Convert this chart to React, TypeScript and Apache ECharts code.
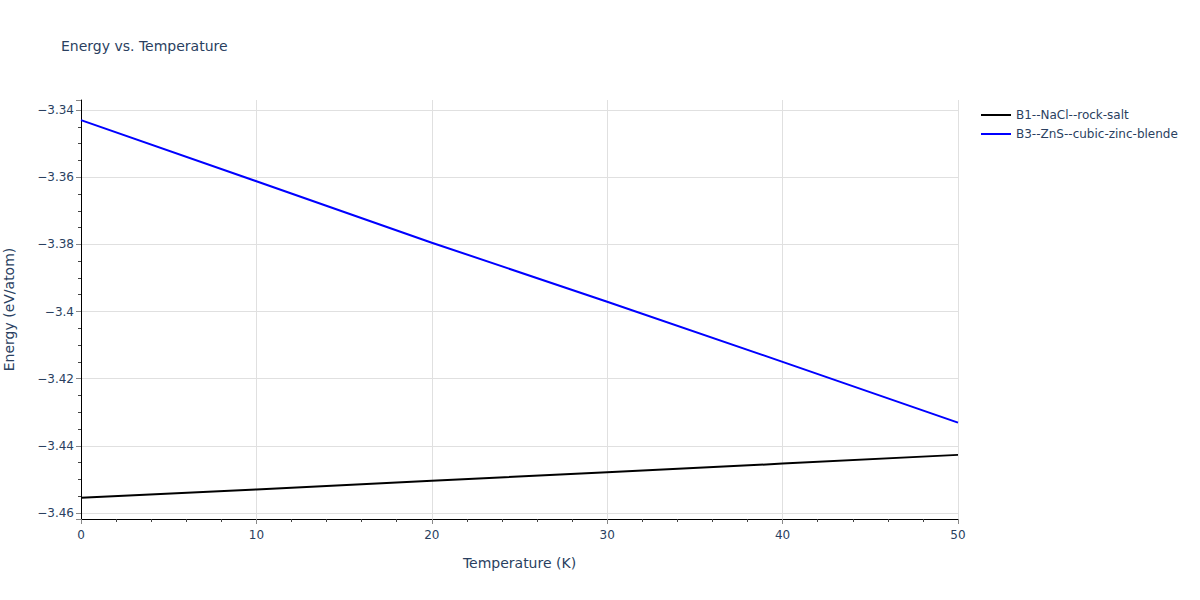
import { useEffect, useRef } from 'react';
import * as echarts from 'echarts';

// Temperature samples (K)
const temperatures = [0, 10, 20, 30, 40, 50];

// Energy per structure (eV/atom)
const rockSalt = [-3.4555, -3.4530, -3.4504, -3.4479, -3.4453, -3.4427];
const zincBlende = [-3.3430, -3.3612, -3.3795, -3.3971, -3.4150, -3.4331];

const seriesNames = ['B1--NaCl--rock-salt', 'B3--ZnS--cubic-zinc-blende'];
const seriesColors = ['#000000', '#0000ff'];

const textColor = '#2a3f5f';
const gridColor = '#e0e0e0';

const toPairs = (ys: number[]) => temperatures.map((t, i) => [t, ys[i]]);

const fmt = (v: number) => {
    const s = parseFloat(v.toFixed(4)).toString();
    return s.replace('-', '\u2212');
};

const App = () => {
    const chartRef = useRef<HTMLDivElement>(null);

    useEffect(() => {
        if (!chartRef.current) return;
        const chart = echarts.init(chartRef.current, undefined, { renderer: 'svg' });

        const option: echarts.EChartsOption = {
            animation: false,
            backgroundColor: '#ffffff',
            textStyle: { fontFamily: '"DejaVu Sans", Verdana, sans-serif' },
            title: {
                text: 'Energy vs. Temperature',
                left: 56,
                top: 34,
                textStyle: { fontSize: 14, fontWeight: 'normal', color: textColor }
            },
            legend: {
                orient: 'vertical',
                left: 976,
                top: 104,
                itemWidth: 30,
                itemHeight: 2,
                itemGap: 7,
                icon: 'rect',
                textStyle: { fontSize: 12, color: textColor },
                data: seriesNames
            },
            grid: { left: 81, right: 242, top: 100, bottom: 81, outerBoundsMode: 'none' } as any,
            xAxis: {
                type: 'value',
                min: 0,
                max: 50,
                interval: 10,
                name: 'Temperature (K)',
                nameLocation: 'middle',
                nameGap: 37,
                nameTextStyle: { fontSize: 14, color: textColor },
                axisLine: { show: true, lineStyle: { color: '#000', width: 1 } },
                axisTick: { show: true, length: 5, lineStyle: { color: '#888' } },
                minorTick: { show: true, splitNumber: 5, length: 3, lineStyle: { color: '#444' } },
                axisLabel: { fontSize: 12, color: textColor, margin: 10 },
                splitLine: { show: true, lineStyle: { color: gridColor } }
            },
            yAxis: {
                type: 'value',
                min: -3.4618,
                max: -3.337,
                splitNumber: 6,
                minInterval: 0.02,
                maxInterval: 0.02,
                name: 'Energy (eV/atom)',
                nameLocation: 'middle',
                nameGap: 65,
                nameTextStyle: { fontSize: 14, color: textColor },
                axisLine: { show: true, lineStyle: { color: '#000', width: 1 } },
                axisTick: { show: true, length: 5, lineStyle: { color: '#888' } },
                minorTick: { show: true, splitNumber: 4, length: 3, lineStyle: { color: '#444' } },
                axisLabel: {
                    fontSize: 12,
                    color: textColor,
                    margin: 7,
                    showMinLabel: false,
                    showMaxLabel: false,
                    formatter: (v: number) => fmt(v)
                },
                splitLine: {
                    show: true,
                    showMinLine: false,
                    showMaxLine: false,
                    lineStyle: { color: gridColor }
                }
            },
            series: [
                {
                    name: seriesNames[0],
                    type: 'line',
                    data: toPairs(rockSalt),
                    showSymbol: false,
                    lineStyle: { color: seriesColors[0], width: 2 },
                    itemStyle: { color: seriesColors[0] }
                },
                {
                    name: seriesNames[1],
                    type: 'line',
                    data: toPairs(zincBlende),
                    showSymbol: false,
                    lineStyle: { color: seriesColors[1], width: 2 },
                    itemStyle: { color: seriesColors[1] }
                }
            ]
        };
        chart.setOption(option);

        return () => {
            chart.dispose();
        };
    }, []);

    return (
        <div
            ref={chartRef}
            style={{ position: 'absolute', left: 0, top: 0, width: '1200px', height: '600px' }}
        />
    );
};

export default App;
